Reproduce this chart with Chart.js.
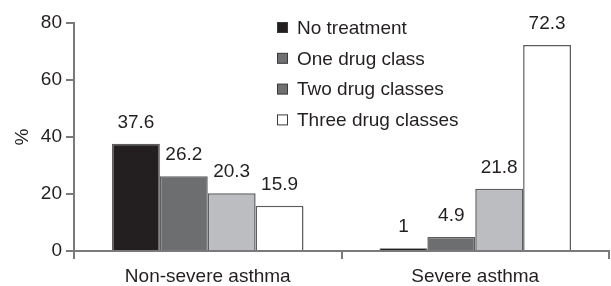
<!DOCTYPE html>
<html>
<head>
<meta charset="utf-8">
<script src="https://cdn.jsdelivr.net/npm/chart.js@4/dist/chart.umd.min.js"></script>
<style>
  html, body { margin: 0; padding: 0; background: #fff; }
  #wrap { width: 611px; height: 286px; }
</style>
</head>
<body>
<div id="wrap"><canvas id="chart" width="611" height="286"></canvas></div>
<script>
const categories = ["Non-severe asthma", "Severe asthma"];
const seriesNames = ["No treatment", "One drug class", "Two drug classes", "Three drug classes"];
const noTreatment = [37.6, 1];
const oneDrug = [26.2, 4.9];
const twoDrugs = [20.3, 21.8];
const threeDrugs = [15.9, 72.3];
const yTicks = [0, 20, 40, 60, 80];

const barColors = ["#231f20", "#6d6e70", "#bcbdc0", "#ffffff"];
const legendColors = ["#231f20", "#707072", "#707072", "#ffffff"];
const FONT = "'Liberation Sans', Arial, sans-serif";

// value labels above bars
const valueLabels = {
  id: "valueLabels",
  afterDatasetsDraw(chart) {
    const ctx = chart.ctx;
    ctx.save();
    ctx.font = "19px " + FONT;
    ctx.fillStyle = "#231f20";
    ctx.textAlign = "center";
    ctx.textBaseline = "alphabetic";
    chart.data.datasets.forEach((ds, i) => {
      chart.getDatasetMeta(i).data.forEach((bar, j) => {
        ctx.fillText(String(ds.data[j]), bar.x, bar.y - 16);
      });
    });
    ctx.restore();
  },
};

// legend drawn inside the plot area
const insideLegend = {
  id: "insideLegend",
  afterDraw(chart) {
    const ctx = chart.ctx;
    ctx.save();
    ctx.font = "19px " + FONT;
    ctx.textBaseline = "middle";
    ctx.textAlign = "left";
    chart.data.datasets.forEach((ds, i) => {
      const y = 27.5 + i * 30.8;
      ctx.fillStyle = legendColors[i];
      ctx.fillRect(277.5, y - 5, 10, 10);
      ctx.strokeStyle = "#3a3a3a";
      ctx.lineWidth = 1;
      ctx.strokeRect(277.5, y - 5, 10, 10);
      ctx.fillStyle = "#231f20";
      ctx.fillText(ds.label, 297, y + 1);
    });
    ctx.restore();
  },
};

const seriesData = [noTreatment, oneDrug, twoDrugs, threeDrugs];

new Chart(document.getElementById("chart"), {
  type: "bar",
  data: {
    labels: categories,
    datasets: seriesNames.map((name, i) => ({
      label: name,
      data: seriesData[i],
      backgroundColor: barColors[i],
      borderColor: "#5d5d5f",
      borderWidth: 1.5,
      borderSkipped: "bottom",
    })),
  },
  options: {
    responsive: false,
    animation: false,
    layout: { padding: { top: 23, right: 2, left: 0, bottom: 0 } },
    plugins: {
      legend: { display: false },
      tooltip: { enabled: false },
    },
    datasets: {
      bar: { categoryPercentage: 0.716, barPercentage: 1 },
    },
    scales: {
      x: {
        grid: {
          offset: true,
          drawOnChartArea: false,
          tickLength: 8,
          color: "#7a7a7c",
          lineWidth: 2,
        },
        border: { color: "#7a7a7c", width: 2 },
        ticks: {
          font: { family: FONT, size: 19 },
          color: "#231f20",
          padding: 6,
        },
        afterFit(scale) { scale.height = 35; },
      },
      y: {
        min: 0,
        max: 80,
        afterBuildTicks(scale) {
          scale.ticks = yTicks.map((v) => ({ value: v }));
        },
        grid: {
          drawOnChartArea: false,
          tickLength: 8,
          color: "#7a7a7c",
          lineWidth: 2,
        },
        border: { color: "#7a7a7c", width: 2 },
        ticks: {
          font: { family: FONT, size: 19 },
          color: "#231f20",
          padding: 4,
        },
        title: {
          display: true,
          text: "%",
          font: { family: FONT, size: 19 },
          color: "#231f20",
          padding: { top: 11, bottom: 0 },
        },
        afterFit(scale) { scale.width = 74; },
      },
    },
  },
  plugins: [valueLabels, insideLegend],
});
</script>
</body>
</html>
